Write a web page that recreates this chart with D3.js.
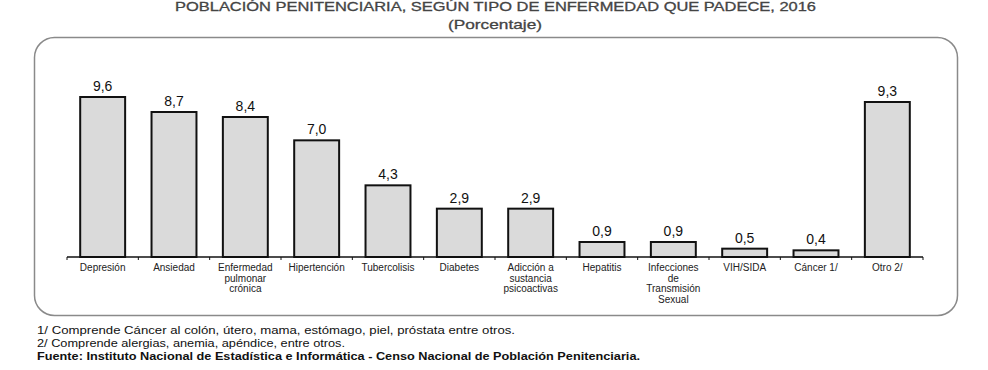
<!DOCTYPE html>
<html>
<head>
<meta charset="utf-8">
<script src="https://cdn.jsdelivr.net/npm/d3@7"></script>
<style>
  body { margin: 0; background: #fff; }
  svg { display: block; font-family: "Liberation Sans", Arial, sans-serif; }
</style>
</head>
<body>
<script>
// categorias y valores (porcentaje)
var categorias = ["Depresión", "Ansiedad", "Enfermedad|pulmonar|crónica", "Hipertención", "Tubercolisis",
  "Diabetes", "Adicción a|sustancia|psicoactivas", "Hepatitis", "Infecciones|de|Transmisión|Sexual",
  "VIH/SIDA", "Cáncer 1/", "Otro 2/"];
var valores = [9.6, 8.7, 8.4, 7.0, 4.3, 2.9, 2.9, 0.9, 0.9, 0.5, 0.4, 9.3];

var notas = [
  "1/ Comprende Cáncer al colón, útero, mama, estómago, piel, próstata entre otros.",
  "2/ Comprende alergias, anemia, apéndice, entre otros."
];
var fuente = "Fuente: Instituto Nacional de Estadística e Informática - Censo Nacional de Población Penitenciaria.";

var width = 988, height = 370;

var svg = d3.select("body").append("svg")
  .attr("width", width)
  .attr("height", height);

// titulo (el original esta un poco estirado a lo ancho)
svg.append("text")
  .attr("x", 175).attr("y", 11)
  .attr("textLength", 641).attr("lengthAdjust", "spacingAndGlyphs")
  .style("font-size", "13px").style("fill", "#444")
  .style("stroke", "#444").style("stroke-width", 0.3)
  .text("POBLACIÓN PENITENCIARIA, SEGÚN TIPO DE ENFERMEDAD QUE PADECE, 2016");

svg.append("text")
  .attr("x", 448).attr("y", 29)
  .attr("textLength", 94).attr("lengthAdjust", "spacingAndGlyphs")
  .style("font-size", "13px").style("fill", "#444")
  .style("stroke", "#444").style("stroke-width", 0.3)
  .text("(Porcentaje)");

// marco
svg.append("rect")
  .attr("x", 34.5).attr("y", 37.5)
  .attr("width", 923).attr("height", 278)
  .attr("rx", 20).attr("ry", 20)
  .style("fill", "none").style("stroke", "#8a8a8a").style("stroke-width", 1.5);

var x = d3.scaleBand()
  .domain(categorias)
  .range([67, 923])
  .paddingInner(0.37)
  .paddingOuter(0.185);

var y = d3.scaleLinear()
  .domain([0, 9.6])
  .range([257, 97]);

// barras
svg.selectAll("rect.bar")
  .data(valores)
  .enter()
  .append("rect")
  .attr("class", "bar")
  .attr("x", function (d, i) { return x(categorias[i]); })
  .attr("y", function (d) { return y(d); })
  .attr("width", x.bandwidth())
  .attr("height", function (d) { return y(0) - y(d); })
  .style("fill", "#dadada")
  .style("stroke", "#111")
  .style("stroke-width", 2);

// etiquetas de valor
svg.selectAll("text.val")
  .data(valores)
  .enter()
  .append("text")
  .attr("class", "val")
  .attr("x", function (d, i) { return x(categorias[i]) + x.bandwidth() / 2; })
  .attr("y", function (d) { return y(d) - 6; })
  .attr("text-anchor", "middle")
  .style("font-size", "14px").style("fill", "#111")
  .text(function (d) { return d.toFixed(1).replace(".", ","); });

// eje
svg.append("line")
  .attr("x1", 67).attr("x2", 923)
  .attr("y1", y(0)).attr("y2", y(0))
  .style("stroke", "#111").style("stroke-width", 1.5);

var bordes = categorias.map(function (c) { return x(c) - x.step() * x.paddingInner() / 2; });
bordes.push(923);
svg.selectAll("line.tick")
  .data(bordes)
  .enter()
  .append("line")
  .attr("class", "tick")
  .attr("x1", function (d) { return d; }).attr("x2", function (d) { return d; })
  .attr("y1", y(0)).attr("y2", y(0) + 3)
  .style("stroke", "#111").style("stroke-width", 1);

// nombres de categorias
var cat = svg.selectAll("text.cat")
  .data(categorias)
  .enter()
  .append("text")
  .attr("class", "cat")
  .attr("text-anchor", "middle")
  .style("font-size", "10px").style("fill", "#222");

cat.selectAll("tspan")
  .data(function (d) { return d.split("|").map(function (t) { return { t: t, c: d }; }); })
  .enter()
  .append("tspan")
  .attr("x", function (d) { return x(d.c) + x.bandwidth() / 2; })
  .attr("y", function (d, i) { return 271 + i * 10.5; })
  .text(function (d) { return d.t; });

// notas
var anchoNotas = [478, 308];
svg.selectAll("text.nota")
  .data(notas)
  .enter()
  .append("text")
  .attr("class", "nota")
  .attr("x", 37)
  .attr("y", function (d, i) { return 334 + i * 13; })
  .attr("textLength", function (d, i) { return anchoNotas[i]; })
  .attr("lengthAdjust", "spacingAndGlyphs")
  .style("font-size", "11px").style("fill", "#111")
  .text(function (d) { return d; });

svg.append("text")
  .attr("x", 37).attr("y", 360)
  .attr("textLength", 603).attr("lengthAdjust", "spacingAndGlyphs")
  .style("font-size", "11px").style("font-weight", "bold").style("fill", "#111")
  .text(fuente);
</script>
</body>
</html>
